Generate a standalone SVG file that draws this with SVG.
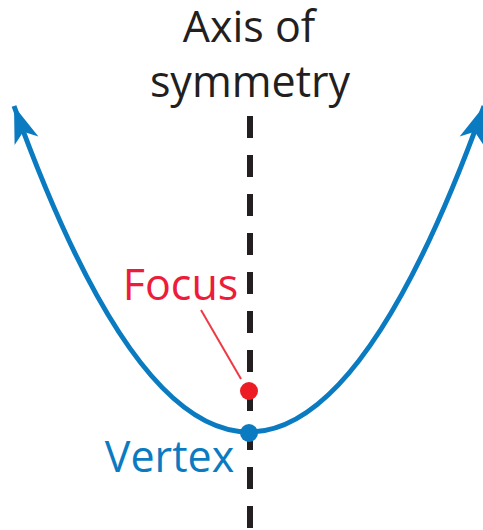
<svg xmlns="http://www.w3.org/2000/svg" width="483" height="530" viewBox="0 0 483 530">
<style>
.lbl{font-family:"Open Sans","Liberation Sans",sans-serif;font-size:43px;}
.blue{fill:#0b7bc1;}
.red{fill:#ed1c3a;}
.dark{fill:#231f20;}
</style>
<defs>
<marker id="arrow" markerUnits="userSpaceOnUse" markerWidth="40" markerHeight="30" refX="0" refY="0" viewBox="-36 -13 38 26" orient="auto-start-reverse" overflow="visible">
<path d="M0,0 L-35,-12 L-26,0 L-35,12 Z" fill="#0b7bc1"/>
</marker>
</defs>
<g id="axis">
<line x1="250" y1="116" x2="250" y2="530" stroke="#231f20" stroke-width="6" stroke-dasharray="22 17"/>
<text class="lbl dark" x="249" y="42" text-anchor="middle">Axis of</text>
<text class="lbl dark" x="250" y="97" text-anchor="middle">symmetry</text>
</g>
<g id="parabola">
<path d="M14,106 Q249,758 484,106" fill="none" stroke="#0b7bc1" stroke-width="5" marker-start="url(#arrow)" marker-end="url(#arrow)"/>
</g>
<g id="connectors">
<line x1="201" y1="310" x2="241" y2="379" stroke="#ee3a43" stroke-width="2"/>
</g>
<g id="focus">
<circle cx="249" cy="391" r="9" fill="#ed1c24"/>
<text class="lbl red" x="180.5" y="300" text-anchor="middle">Focus</text>
</g>
<g id="vertex">
<circle cx="249" cy="433" r="9" fill="#0b7bc1"/>
<text class="lbl blue" x="169.5" y="472" text-anchor="middle">Vertex</text>
</g>
</svg>
